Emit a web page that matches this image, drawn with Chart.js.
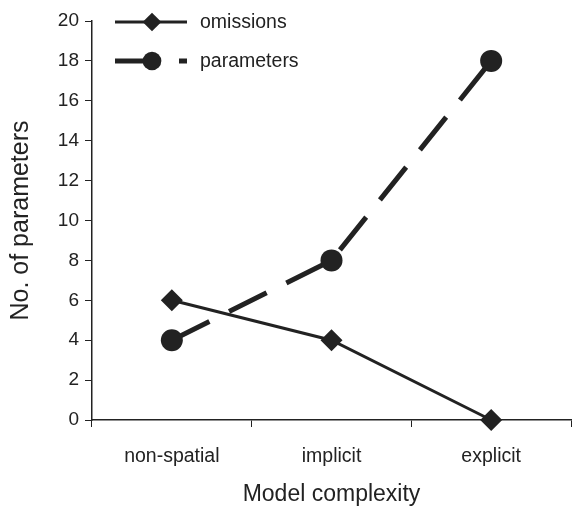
<!DOCTYPE html>
<html lang="en">
<head>
  <meta charset="UTF-8" />
  <title>Model complexity</title>
  <script src="https://cdn.jsdelivr.net/npm/chart.js"></script>
  <style>
    html, body { margin: 0; padding: 0; background: #fff; overflow: hidden; }
    #wrap { width: 573px; height: 508px; position: relative; }
    canvas { display: block; }
  </style>
</head>
<body>
  <div id="wrap"><canvas id="chart"></canvas></div>

  <script>
    const categories = ["non-spatial", "implicit", "explicit"];
    const omissions = [6, 4, 0];
    const parameters = [4, 8, 18];
    const yTicks = [0, 2, 4, 6, 8, 10, 12, 14, 16, 18, 20];

    const ink = "#222";
    const font = "'Liberation Sans', Arial, sans-serif";

    // legend drawn by hand, top left inside the plot
    const legendPlugin = {
      id: "cornerLegend",
      afterDraw(chart) {
        const ctx = chart.ctx;
        const x0 = chart.chartArea.left + 23;
        const rows = [chart.chartArea.top + 1, chart.chartArea.top + 40];
        ctx.save();
        chart.data.datasets.forEach((ds, i) => {
          const y = rows[i];
          ctx.strokeStyle = ds.borderColor;
          ctx.lineWidth = ds.borderWidth;
          ctx.setLineDash(ds.borderDash || []);
          ctx.beginPath();
          ctx.moveTo(x0, y);
          ctx.lineTo(x0 + 72, y);
          ctx.stroke();
          ctx.setLineDash([]);
          ctx.fillStyle = ink;
          Chart.helpers.drawPoint(ctx, {
            pointStyle: ds.pointStyle,
            radius: ds.pointRadius * 0.85,
            borderWidth: 0
          }, x0 + 37, y);
          ctx.font = "19.5px " + font;
          ctx.textBaseline = "middle";
          ctx.fillText(ds.label, x0 + 85, y + 1);
        });
        ctx.restore();
      }
    };

    new Chart(document.getElementById("chart"), {
      type: "line",
      data: {
        labels: categories,
        datasets: [
          {
            label: "omissions",
            data: omissions,
            borderColor: ink,
            backgroundColor: ink,
            borderWidth: 3,
            pointStyle: "rectRot",
            pointRadius: 11,
            pointBorderWidth: 0,
            clip: false
          },
          {
            label: "parameters",
            data: parameters,
            borderColor: ink,
            backgroundColor: ink,
            borderWidth: 5,
            borderDash: [42, 22],
            pointStyle: "circle",
            pointRadius: 11,
            pointBorderWidth: 0,
            clip: false
          }
        ]
      },
      options: {
        responsive: true,
        maintainAspectRatio: false,
        animation: false,
        layout: { autoPadding: false, padding: { top: 21, right: 2, left: 0, bottom: 0 } },
        plugins: {
          legend: { display: false },
          tooltip: { enabled: false }
        },
        scales: {
          x: {
            offset: true,
            afterFit(scale) {
              scale.height = 88;
              scale.paddingLeft = 0;
              scale.paddingRight = 0;
            },
            grid: { drawOnChartArea: false, color: ink, tickLength: 7, offset: true },
            border: { color: ink, width: 1.5 },
            ticks: { color: ink, font: { family: font, size: 19.5 }, padding: 18 },
            title: { display: true, text: "Model complexity", color: ink, font: { family: font, size: 23 }, padding: { top: 0, bottom: 0 } }
          },
          y: {
            min: 0,
            max: 20,
            afterFit(scale) { scale.width = 92; },
            afterBuildTicks(scale) { scale.ticks = yTicks.map(v => ({ value: v })); },
            grid: { drawOnChartArea: false, color: ink, tickLength: 7 },
            border: { color: ink, width: 1.5 },
            ticks: { color: ink, font: { family: font, size: 19 }, padding: 6 },
            title: { display: true, text: "No. of parameters", color: ink, font: { family: font, size: 25 }, padding: { top: 6, bottom: 0 } }
          }
        }
      },
      plugins: [legendPlugin]
    });
  </script>
</body>
</html>
